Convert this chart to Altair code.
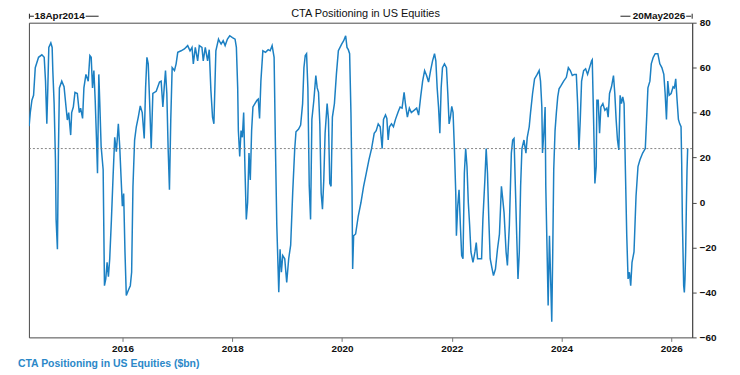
import altair as alt
import pandas as pd

title_text = "CTA Positioning in US Equities"
series_name = "CTA Positioning in US Equities ($bn)"
start_label = "18Apr2014"
end_label = "20May2026"
current_level = 24
y_ticks = list(range(-60, 81, 10))
x_tick_years = [2016, 2018, 2020, 2022, 2024, 2026]

# decimal-year dates
dates = [
    2014.297, 2014.318, 2014.348, 2014.378, 2014.409, 2014.469, 2014.529, 2014.572, 2014.596, 2014.620,
    2014.638, 2014.656, 2014.693, 2014.717, 2014.729, 2014.753, 2014.777, 2014.789, 2014.813, 2014.831,
    2014.849, 2014.892, 2014.934, 2014.970, 2014.994, 2015.019, 2015.055, 2015.073, 2015.103, 2015.133,
    2015.176, 2015.212, 2015.236, 2015.272, 2015.296, 2015.333, 2015.375, 2015.405, 2015.429, 2015.453,
    2015.478, 2015.502, 2015.526, 2015.544, 2015.568, 2015.586, 2015.610, 2015.647, 2015.671, 2015.695,
    2015.719, 2015.743, 2015.767, 2015.798, 2015.828, 2015.858, 2015.888, 2015.924, 2015.949, 2015.973,
    2015.997, 2016.021, 2016.045, 2016.069, 2016.106, 2016.142, 2016.166, 2016.190, 2016.220, 2016.251,
    2016.287, 2016.323, 2016.359, 2016.395, 2016.420, 2016.444, 2016.468, 2016.492, 2016.522, 2016.552,
    2016.613, 2016.673, 2016.703, 2016.734, 2016.758, 2016.782, 2016.806, 2016.830, 2016.854, 2016.878,
    2016.903, 2016.945, 2016.975, 2017.005, 2017.066, 2017.126, 2017.186, 2017.229, 2017.265, 2017.289,
    2017.325, 2017.368, 2017.398, 2017.446, 2017.470, 2017.507, 2017.549, 2017.579, 2017.609, 2017.639,
    2017.664, 2017.700, 2017.748,
    2017.760, 2017.796, 2017.833, 2017.869, 2017.911, 2017.953, 2018.002, 2018.050, 2018.074, 2018.098,
    2018.110, 2018.135, 2018.159, 2018.183, 2018.207, 2018.231, 2018.255, 2018.279, 2018.304, 2018.328,
    2018.352, 2018.376, 2018.412, 2018.449, 2018.473, 2018.497, 2018.521, 2018.557, 2018.606, 2018.654,
    2018.690, 2018.726, 2018.762, 2018.787, 2018.811, 2018.835, 2018.847, 2018.871, 2018.895, 2018.920,
    2018.956, 2018.992, 2019.028, 2019.064, 2019.101, 2019.137, 2019.161, 2019.209, 2019.246, 2019.282,
    2019.306, 2019.330, 2019.354, 2019.378, 2019.403, 2019.427, 2019.451, 2019.487, 2019.523, 2019.548,
    2019.572, 2019.596, 2019.620, 2019.644, 2019.668, 2019.692, 2019.729, 2019.753, 2019.777, 2019.801,
    2019.825, 2019.862, 2019.898, 2019.934, 2019.994, 2020.031, 2020.067, 2020.091, 2020.115, 2020.139,
    2020.163, 2020.182, 2020.194, 2020.212, 2020.248, 2020.296, 2020.345, 2020.393, 2020.441, 2020.490,
    2020.538, 2020.586, 2020.622, 2020.659, 2020.695, 2020.731, 2020.755, 2020.791, 2020.816, 2020.840,
    2020.864, 2020.900, 2020.936, 2020.973, 2021.021,
    2021.057, 2021.093, 2021.130, 2021.154, 2021.190, 2021.226, 2021.262, 2021.311, 2021.359, 2021.395,
    2021.432, 2021.468, 2021.504, 2021.540, 2021.576, 2021.613, 2021.649, 2021.685, 2021.709, 2021.733,
    2021.758, 2021.782, 2021.806, 2021.830, 2021.866, 2021.903, 2021.927, 2021.951, 2021.975, 2021.999,
    2022.023, 2022.048, 2022.072, 2022.084, 2022.108, 2022.132, 2022.156, 2022.180, 2022.204, 2022.229,
    2022.253, 2022.277, 2022.301, 2022.325, 2022.349, 2022.386, 2022.422, 2022.446, 2022.470, 2022.507,
    2022.543, 2022.567, 2022.603, 2022.627, 2022.651, 2022.675, 2022.700, 2022.736, 2022.760, 2022.796,
    2022.833, 2022.869, 2022.905, 2022.929, 2022.953, 2022.990, 2023.014, 2023.050, 2023.086, 2023.110,
    2023.135, 2023.159, 2023.183, 2023.207, 2023.231, 2023.255, 2023.279, 2023.316, 2023.352, 2023.376,
    2023.412, 2023.436, 2023.473, 2023.509, 2023.557, 2023.593, 2023.618, 2023.642, 2023.654, 2023.678,
    2023.702,
    2023.714, 2023.738, 2023.757, 2023.781, 2023.799, 2023.823, 2023.841, 2023.859, 2023.883, 2023.907,
    2023.932, 2023.956, 2023.992, 2024.040, 2024.089, 2024.125, 2024.161, 2024.197, 2024.234, 2024.270,
    2024.294, 2024.318, 2024.342, 2024.366, 2024.403, 2024.439, 2024.475, 2024.511, 2024.548, 2024.560,
    2024.584, 2024.608, 2024.632, 2024.644, 2024.668, 2024.693, 2024.717, 2024.753, 2024.789, 2024.825,
    2024.849, 2024.874, 2024.910, 2024.946, 2024.970, 2024.994, 2025.019, 2025.043, 2025.067, 2025.091,
    2025.115, 2025.139, 2025.163, 2025.188, 2025.212, 2025.236, 2025.260, 2025.284, 2025.320, 2025.357,
    2025.393, 2025.429, 2025.478, 2025.526, 2025.550, 2025.574, 2025.610, 2025.635, 2025.671, 2025.707,
    2025.755, 2025.791, 2025.828, 2025.864, 2025.888, 2025.912, 2025.936, 2025.961, 2025.997, 2026.033,
    2026.057, 2026.081, 2026.106, 2026.130, 2026.154, 2026.178, 2026.190, 2026.202, 2026.214, 2026.226,
    2026.238, 2026.250, 2026.262, 2026.275, 2026.287, 2026.299,
]

values = [
    34, 40, 45.5, 47.7, 60, 64.6, 65.7, 64.6, 54, 35,
    51, 69, 71, 69, 58.7, 44, 19, -7.5, -20.8, 22,
    51, 54, 51.5, 42.5, 36.7, 40, 30, 40, 42.5, 49,
    48.5, 40, 42, 37.4, 51, 57, 54, 65.4, 64.6, 51,
    58.7, 45.5, 27.8, 13, 57, 44, 25, 14.6, -37, -34,
    -26.6, -33, -25, -7.5, 11.6, 29, 22.6, 35, 25, 11.6,
    -1.6, 4, -22, -41.4, -39, -37, -31, 7, 27.8, 33.7,
    38, 43, 40, 28.5, 51, 64.6, 61.7, 45.5, 24, 48.5,
    49.5, 53.6, 54, 42.5, 51, 58.7, 48.5, 24, 5.7, 37,
    60, 58.7, 61.7, 66.8, 67.5, 68.3, 69.8, 67.5, 69, 61.7,
    69, 63, 69.8, 69, 63, 69, 63, 68, 50, 38,
    35, 67.5, 72.7,
    72, 70.5, 72, 69.8, 72.7, 74.2, 73.4, 72.7, 69, 51,
    32, 20.5, 32, 29, 40, 14.6, -7.5, 0, 22, 10,
    32, 42.5, 44, 45.5, 46, 37.4, 54, 67.5, 66.8, 68,
    67.5, 69.8, 64.6, 24, -10, -29.6, -39.9, -20.8, -31, -23.6,
    -25, -35.5, -25, -19, 4.3, 23.4, 31.5, 32.7, 34.5, 44,
    60, 65.4, 66.2, 51, 7.2, -7.5, 37, 45.5, 56.5, 51,
    49, 35, 4.3, -3, 10, 30.8, 44, 37, 8.5, 7.2,
    38, 44, 57, 67.5, 70.5, 72, 74.2, 69, 68, 66.2,
    40, 7.2, -29.6, -14.8, -14, -6, 0, 7.2, 13, 19,
    24, 30.8, 32, 35, 33.7, 24, 37, 39, 37.4, 27.8,
    33.7, 35, 33.7, 37, 40.3,
    42.5, 42, 49, 44, 38, 42, 40, 41, 42, 38.9,
    47, 54, 58.7, 56.5, 53.6, 58.7, 63, 66.2, 63, 51,
    42.5, 30.8, 51, 60, 61.7, 60, 48.5, 35, 38, 42.8,
    40, 23.4, 4.3, -14.8, -1.6, 5.7, -10, -23.6, -25, 13,
    24, 16, 0, -10, -22, -26.6, -22, -17.8, -25, -25,
    -25, -7.5, 10, 24, 13, -7.5, -25, -29.6, -32.5, -29.6,
    -20.8, -14, 7.2, 1.5, -4.5, -22, -28, -10, 22, 27.8,
    28.5, 7.2, -14, -34, -22, 7.2, 24, 27.8, 22, 29,
    33.7, 40, 48.5, 55, 57, 58.7, 54, 42.5, 22, 30.8,
    42.5,
    7.2, -22, -45.8, -14.8, -31, -53, -22, 14.6, 32, 40,
    47, 50.6, 52, 54, 55.7, 60, 58.7, 56.5, 57, 57,
    44, 23.4, 37, 54, 58.7, 59.5, 57, 60, 63, 63.5,
    37, 8.5, 16, 45.5, 45.5, 30.8, 42.5, 44, 41, 42,
    38, 48.5, 51.5, 56.5, 48.5, 37, 27.8, 23.4, 47.7, 44,
    47, 44, 14.6, -14.8, -34, -31, -37, -26.6, -22, 2.8,
    16, 19, 22, 24, 37, 51, 54, 61.7, 64.6, 66.2,
    66.2, 61.7, 60, 57, 48.5, 37, 54, 47.7, 48.5, 51.5,
    51, 55, 45.5, 37, 35, 33.7, 17.5, -7.5, -22, -37,
    -40, -34, -22, -1.6, 14.6, 24,
]


def to_timestamp(d):
    y = int(d)
    a = pd.Timestamp(year=y, month=1, day=1)
    b = pd.Timestamp(year=y + 1, month=1, day=1)
    return a + (b - a) * (d - y)


df = pd.DataFrame({"date": [to_timestamp(d) for d in dates], "value": values})
one = alt.InlineData(values=[{"k": 1}])

FONT = "Liberation Sans"
LINE_BLUE = "#1c80c3"
FRAME = "#4a4a4a"

x_scale = alt.Scale(domain=[alt.DateTime(year=2014, month=4, date=18),
                            alt.DateTime(year=2026, month=5, date=20)])
y_scale = alt.Scale(domain=[-60, 80], nice=False, zero=False)

line = alt.Chart(df).mark_line(color=LINE_BLUE, strokeWidth=1.5, clip=True).encode(
    x=alt.X("date:T", scale=x_scale, title=None,
            axis=alt.Axis(values=[alt.DateTime(year=yr, month=1, date=1) for yr in x_tick_years],
                          format="%Y", grid=False, domain=False, tickSize=4, tickColor="#777",
                          labelFont=FONT, labelFontSize=10, labelFontWeight="bold",
                          labelColor="#111", labelPadding=2, labelFlush=False)),
    y=alt.Y("value:Q", scale=y_scale, title=None,
            axis=alt.Axis(orient="right", values=y_ticks, grid=False, domain=True,
                          domainColor=FRAME, tickColor=FRAME, tickSize=4,
                          labelFont=FONT, labelFontSize=10, labelFontWeight="bold",
                          labelColor="#111", labelPadding=3, labelFlush=False)),
)

level = alt.Chart(one).mark_rule(color="#777", strokeDash=[2, 2], strokeWidth=0.9).encode(
    y=alt.datum(current_level, scale=y_scale)
)

title = alt.Chart(one).mark_text(text=title_text, font=FONT, fontSize=11, color="#111",
                                 align="center", baseline="alphabetic").encode(
    x=alt.value(338), y=alt.value(-5.5))

start_txt = alt.Chart(one).mark_text(text=start_label, font=FONT, fontSize=10, fontWeight="bold",
                                     color="#111", align="left", baseline="alphabetic").encode(
    x=alt.value(5.5), y=alt.value(-3.5))
end_txt = alt.Chart(one).mark_text(text=end_label, font=FONT, fontSize=10, fontWeight="bold",
                                   color="#111", align="right", baseline="alphabetic").encode(
    x=alt.value(659), y=alt.value(-3.5))


def seg(x1, x2, y1, y2):
    return alt.Chart(one).mark_rule(color="#222", strokeWidth=1).encode(
        x=alt.value(x1), x2=alt.value(x2), y=alt.value(y1), y2=alt.value(y2))


brackets = [
    seg(0.5, 0.5, -9, -4), seg(1, 5, -6.5, -6.5), seg(57, 70, -6.5, -6.5),
    seg(666, 666, -9, -4), seg(660, 665, -6.5, -6.5), seg(594, 604, -6.5, -6.5),
]

legend_txt = alt.Chart(one).mark_text(text=series_name, font=FONT, fontSize=10.5, fontWeight="bold",
                                      color="#2b88c8", align="left", baseline="alphabetic").encode(
    x=alt.value(-11), y=alt.value(346))

chart = alt.layer(line, level, title, start_txt, end_txt, legend_txt, *brackets).properties(
    width=666, height=316,
    autosize=alt.AutoSizeParams(type="none"),
    padding={"left": 21, "top": 14, "right": 40, "bottom": 35},
).configure(font=FONT).configure_view(stroke=FRAME, strokeWidth=1)

chart.save("out.html", embed_options={"renderer": "svg", "actions": False})
